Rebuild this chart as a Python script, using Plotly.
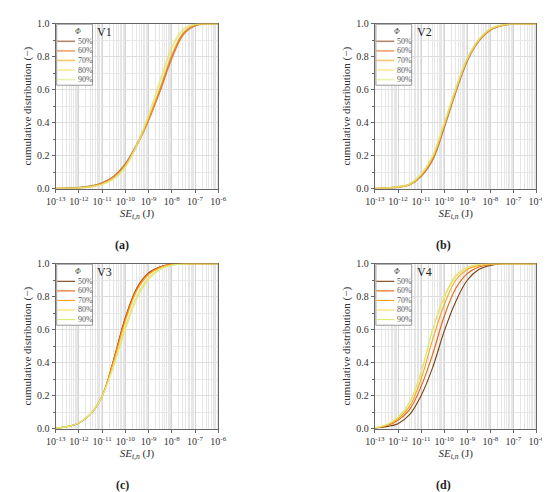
import plotly.graph_objects as go

# log10 of SE_t,n (J)
log_se = [-13, -12.5, -12, -11.5, -11, -10.5, -10, -9.5, -9, -8.5, -8, -7.5, -7, -6.5, -6]
phi_labels = ["50%", "60%", "70%", "80%", "90%"]
colors = ["#7B3F0F", "#E8630A", "#F9A31B", "#FBDC5C", "#D9EA7A"]
tick_exps = [-13, -12, -11, -10, -9, -8, -7, -6]
panel_names = ["V1", "V2", "V3", "V4"]
panel_tags = ["(a)", "(b)", "(c)", "(d)"]

v1 = [
    [0, 0.002, 0.006, 0.015, 0.035, 0.075, 0.15, 0.27, 0.42, 0.60, 0.80, 0.940, 0.990, 1, 1],
    [0, 0.002, 0.005, 0.013, 0.032, 0.070, 0.145, 0.265, 0.415, 0.595, 0.79, 0.935, 0.990, 1, 1],
    [0, 0.002, 0.005, 0.013, 0.030, 0.068, 0.14, 0.265, 0.42, 0.61, 0.81, 0.945, 0.992, 1, 1],
    [0, 0.001, 0.004, 0.011, 0.027, 0.062, 0.135, 0.265, 0.44, 0.65, 0.85, 0.965, 0.996, 1, 1],
    [0, 0.001, 0.004, 0.010, 0.025, 0.058, 0.13, 0.265, 0.445, 0.66, 0.86, 0.970, 0.997, 1, 1],
]
v2 = [
    [0, 0.003, 0.009, 0.023, 0.075, 0.175, 0.37, 0.585, 0.775, 0.895, 0.962, 0.989, 1, 1, 1],
    [0, 0.003, 0.010, 0.025, 0.078, 0.180, 0.378, 0.592, 0.780, 0.898, 0.964, 0.990, 1, 1, 1],
    [0, 0.003, 0.010, 0.025, 0.080, 0.185, 0.385, 0.600, 0.785, 0.900, 0.965, 0.990, 1, 1, 1],
    [0, 0.003, 0.011, 0.027, 0.086, 0.195, 0.392, 0.603, 0.788, 0.903, 0.968, 0.992, 1, 1, 1],
    [0, 0.003, 0.011, 0.028, 0.090, 0.200, 0.395, 0.605, 0.790, 0.905, 0.970, 0.993, 1, 1, 1],
]
v3 = [
    [0.003, 0.012, 0.034, 0.088, 0.195, 0.42, 0.675, 0.855, 0.945, 0.982, 0.997, 1, 1, 1, 1],
    [0.003, 0.012, 0.035, 0.090, 0.200, 0.42, 0.670, 0.850, 0.940, 0.980, 0.997, 1, 1, 1, 1],
    [0.003, 0.012, 0.035, 0.090, 0.200, 0.41, 0.655, 0.840, 0.935, 0.978, 0.996, 1, 1, 1, 1],
    [0.003, 0.012, 0.035, 0.090, 0.197, 0.39, 0.620, 0.805, 0.915, 0.970, 0.992, 0.999, 1, 1, 1],
    [0.003, 0.012, 0.035, 0.090, 0.195, 0.38, 0.600, 0.790, 0.905, 0.965, 0.990, 0.998, 1, 1, 1],
]
v4 = [
    [0.003, 0.012, 0.030, 0.085, 0.200, 0.37, 0.59, 0.77, 0.900, 0.965, 0.990, 1, 1, 1, 1],
    [0.004, 0.017, 0.050, 0.115, 0.255, 0.45, 0.68, 0.85, 0.940, 0.980, 0.995, 1, 1, 1, 1],
    [0.004, 0.020, 0.060, 0.135, 0.300, 0.54, 0.75, 0.90, 0.965, 0.990, 0.998, 1, 1, 1, 1],
    [0.005, 0.024, 0.068, 0.158, 0.340, 0.60, 0.80, 0.93, 0.978, 0.996, 1, 1, 1, 1, 1],
    [0.005, 0.025, 0.070, 0.160, 0.340, 0.60, 0.79, 0.92, 0.975, 0.995, 1, 1, 1, 1, 1],
]
panels = [v1, v2, v3, v4]
opac = [0.6, 0.6, 1.0, 1.0]
widths = [1.6, 1.6, 1.1, 1.1]

W, H = 550, 492
# pixel boxes of the four plot areas: (left, right, top, bottom)
boxes = [(39, 207, 10, 179), (369, 536, 10, 179), (39, 207, 256, 425), (369, 536, 256, 425)]
tag_pos = [(108, 237), (440, 237), (108, 483), (440, 483)]

serif = "Liberation Serif, Times New Roman, serif"
fig = go.Figure()
x_vals = [10 ** e for e in log_se]

for p, data in enumerate(panels):
    xa = "x" if p == 0 else f"x{p+1}"
    ya = "y" if p == 0 else f"y{p+1}"
    for s, ys in enumerate(data):
        fig.add_trace(go.Scatter(
            x=x_vals, y=ys, mode="lines", name=phi_labels[s],
            line=dict(color=colors[s], width=widths[p], shape="spline", smoothing=1.0),
            opacity=opac[p], xaxis=xa, yaxis=ya, showlegend=False,
        ))

def px(x):
    return x / W

def py(y):
    return 1 - y / H

layout = dict(
    width=W, height=H, margin=dict(l=0, r=0, t=0, b=0),
    paper_bgcolor="white", plot_bgcolor="white",
    font=dict(family=serif, size=10, color="#333"),
)
annotations = []
shapes = []
for p in range(4):
    l, r, t, b = boxes[p]
    dx = [px(l), px(r)]
    dy = [py(b), py(t)]
    sfx = "" if p == 0 else str(p + 1)
    layout["xaxis" + sfx] = dict(
        domain=dx, type="log", range=[-13, -6], anchor="y" + sfx,
        tickvals=[10 ** e for e in tick_exps],
        ticktext=[f"10<sup>{e}</sup>" for e in tick_exps],
        showline=True, linecolor="#666", linewidth=1.2, mirror=True,
        ticks="outside", ticklen=3, tickcolor="#666",
        showgrid=True, gridcolor="#d4d4d4", gridwidth=0.6,
        minor=dict(ticks="", showgrid=True, gridcolor="#e6e6e6", gridwidth=0.6, dtick="D1"),
        tickfont=dict(family=serif, size=10, color="#333"),
        title=dict(text="<i>SE</i><sub><i>t,n</i></sub> (J)", font=dict(family=serif, size=11, color="#333"), standoff=3),
        zeroline=False, layer="below traces",
    )
    layout["yaxis" + sfx] = dict(
        domain=dy, range=[0, 1], anchor="x" + sfx,
        tickvals=[0, 0.2, 0.4, 0.6, 0.8, 1.0],
        ticktext=["0.0", "0.2", "0.4", "0.6", "0.8", "1.0"],
        showline=True, linecolor="#666", linewidth=1.2, mirror=True,
        ticks="outside", ticklen=3, tickcolor="#666",
        showgrid=True, gridcolor="#dedede", gridwidth=0.6,
        minor=dict(ticks="outside", ticklen=2, tickcolor="#666", showgrid=True, gridcolor="#e8e8e8", gridwidth=0.6, dtick=0.1),
        tickfont=dict(family=serif, size=10, color="#333"),
        title=dict(text="cumulative distribution (−)", font=dict(family=serif, size=11, color="#333"), standoff=3),
        zeroline=False,
    )
    # legend box (drawn as layout decoration)
    shapes.append(dict(type="rect", xref="paper", yref="paper",
                       x0=px(l + 1), x1=px(l + 38), y0=py(t + 63), y1=py(t + 0.5),
                       line=dict(color="#999", width=1), fillcolor="white", layer="above"))
    annotations.append(dict(x=px(l + 23), y=py(t + 8), xref="paper", yref="paper",
                            text="<i>Φ</i>", showarrow=False, xanchor="center", yanchor="middle",
                            font=dict(family=serif, size=7.5, color="#444")))
    for s, lab in enumerate(phi_labels):
        yy = t + 18 + s * 9.8
        shapes.append(dict(type="line", xref="paper", yref="paper",
                           x0=px(l + 1.5), x1=px(l + 20), y0=py(yy), y1=py(yy),
                           line=dict(color=colors[s], width=widths[p]), opacity=opac[p], layer="above"))
        annotations.append(dict(x=px(l + 20.5), y=py(yy), xref="paper", yref="paper",
                                text=lab, showarrow=False, xanchor="left", yanchor="middle",
                                font=dict(family=serif, size=8, color="#555")))
    annotations.append(dict(
        x=px(l + 41), y=py(t + 8), xref="paper", yref="paper",
        text=panel_names[p], showarrow=False, xanchor="left", yanchor="middle",
        font=dict(family=serif, size=12, color="#222"),
    ))
    tx, ty = tag_pos[p]
    annotations.append(dict(
        x=px(tx), y=py(ty), xref="paper", yref="paper",
        text="<b>" + panel_tags[p] + "</b>", showarrow=False, xanchor="center", yanchor="middle",
        font=dict(family=serif, size=12, color="#222"),
    ))
layout["annotations"] = annotations
layout["shapes"] = shapes
fig.update_layout(**layout)
fig.write_html("out.html")
